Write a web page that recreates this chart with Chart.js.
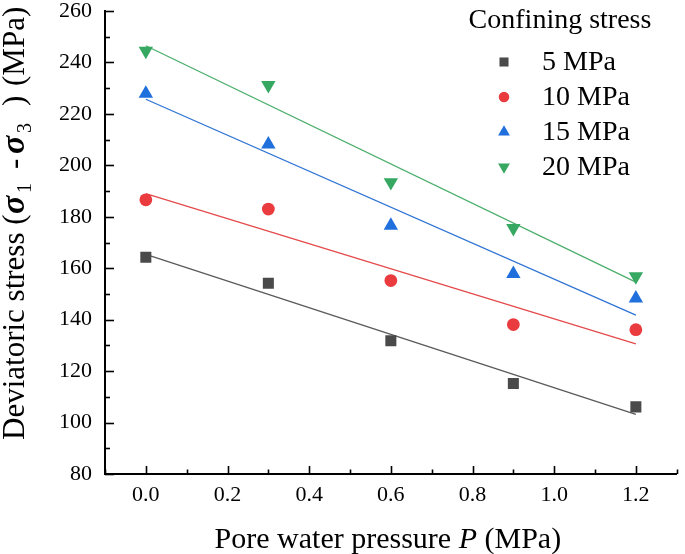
<!DOCTYPE html>
<html>
<head>
<meta charset="utf-8">
<script src="https://cdn.jsdelivr.net/npm/chart.js@4/dist/chart.umd.min.js"></script>
<style>
  html, body { margin: 0; padding: 0; background: #fff; }
  #wrap { width: 685px; height: 554px; }
</style>
</head>
<body>
<div id="wrap"><canvas id="stressChart" width="685" height="554"></canvas></div>
<script>
// Dados
const pressures = [0, 0.3, 0.6, 0.9, 1.2];
const stress5 = [164.3, 154.2, 131.8, 115.2, 106.1];
const stress10 = [186.6, 183.0, 155.2, 138.1, 136.1];
const stress15 = [227.9, 208.2, 176.6, 157.8, 148.3];
const stress20 = [244.5, 231.2, 193.4, 175.6, 156.8];

// Retas de ajuste (valores nos extremos P = 0 e P = 1.2)
const fitX = [0, 1.2];
const fit5 = [165.4, 103.2];
const fit10 = [189.0, 130.6];
const fit15 = [225.7, 141.8];
const fit20 = [246.5, 154.6];

const seriesLabels = ['5 MPa', '10 MPa', '15 MPa', '20 MPa'];
const legendTitle = 'Confining stress';

const serif = '"Liberation Serif", "Times New Roman", serif';
Chart.defaults.font.family = serif;

function toPoints(xs, ys) {
    return xs.map((x, i) => ({ x: x, y: ys[i] }));
}

const markerColors = ['#4a4a4a', '#ea3b3f', '#1f6fdc', '#36a862'];
const lineColors = ['#5a5a5a', '#e44a4c', '#2f74d4', '#4caf6c'];
const markerStyles = [
    { pointStyle: 'rect', radius: 7.8, rotation: 0 },
    { pointStyle: 'circle', radius: 6.4, rotation: 0 },
    { pointStyle: 'triangle', radius: 8.3, rotation: 0 },
    { pointStyle: 'triangle', radius: 8.3, rotation: 180 }
];
const allStress = [stress5, stress10, stress15, stress20];
const allFits = [fit5, fit10, fit15, fit20];

const datasets = [];
allFits.forEach((f, i) => {
    datasets.push({
        type: 'line',
        label: 'fit ' + seriesLabels[i],
        data: toPoints(fitX, f),
        borderColor: lineColors[i],
        borderWidth: 1.3,
        pointRadius: 0,
        fill: false,
        order: 2
    });
});
allStress.forEach((s, i) => {
    datasets.push({
        type: 'scatter',
        label: seriesLabels[i],
        data: toPoints(pressures, s),
        backgroundColor: markerColors[i],
        borderColor: markerColors[i],
        pointBorderWidth: 0,
        pointStyle: markerStyles[i].pointStyle,
        pointRadius: markerStyles[i].radius,
        pointRotation: markerStyles[i].rotation,
        order: 1
    });
});

// Ticks para dentro, maiores nos valores rotulados
const innerTicks = {
    id: 'innerTicks',
    afterDraw(chart) {
        const ctx = chart.ctx;
        const xs = chart.scales.x, ys = chart.scales.y;
        ctx.save();
        ctx.strokeStyle = '#000';
        ctx.lineWidth = 1.6;
        xs.ticks.forEach(t => {
            const major = Math.round(t.value * 10) % 2 === 0;
            const px = Math.round(xs.getPixelForValue(t.value)) + 0.5;
            const len = major ? 8 : 4.5;
            ctx.beginPath();
            ctx.moveTo(px, xs.top);
            ctx.lineTo(px, xs.top - len);
            ctx.stroke();
        });
        ys.ticks.forEach(t => {
            const major = Math.round(t.value) % 20 === 0;
            const py = Math.round(ys.getPixelForValue(t.value)) + 0.5;
            const len = major ? 9 : 5;
            ctx.beginPath();
            ctx.moveTo(ys.right, py);
            ctx.lineTo(ys.right + len, py);
            ctx.stroke();
        });
        ctx.restore();
    }
};

// Títulos dos eixos com itálico e subscritos
const axisTitles = {
    id: 'axisTitles',
    afterDraw(chart) {
        const ctx = chart.ctx;
        const area = chart.chartArea;
        ctx.save();
        ctx.fillStyle = '#000';
        ctx.textBaseline = 'alphabetic';

        // eixo x
        const xParts = [
            { t: 'Pore water pressure ', f: '30px ' + serif },
            { t: 'P', f: 'italic 30px ' + serif },
            { t: ' (MPa)', f: '30px ' + serif }
        ];
        let w = 0;
        xParts.forEach(p => { ctx.font = p.f; w += ctx.measureText(p.t).width; });
        let cx = (area.left + area.right) / 2 - w / 2 - 3;
        xParts.forEach(p => {
            ctx.font = p.f;
            ctx.fillText(p.t, cx, 548);
            cx += ctx.measureText(p.t).width;
        });

        // eixo y (posições ao longo do texto, a partir da base)
        const yParts = [
            { t: 'Deviatoric stress (', f: '31px ' + serif, at: 0, dy: 0 },
            { t: 'σ', f: 'italic bold 34px ' + serif, at: 226, dy: 0 },
            { t: '1', f: '20px ' + serif, at: 247, dy: 7 },
            { t: '-', f: '31px ' + serif, at: 271, dy: 0 },
            { t: 'σ', f: 'italic bold 34px ' + serif, at: 286, dy: 0 },
            { t: '3', f: '20px ' + serif, at: 307, dy: 7 },
            { t: ')', f: '31px ' + serif, at: 334, dy: 0 },
            { t: '(MPa)', f: '31px ' + serif, at: 354, dy: 0 }
        ];
        ctx.translate(24, 440);
        ctx.rotate(-Math.PI / 2);
        yParts.forEach(p => {
            ctx.font = p.f;
            ctx.fillText(p.t, p.at, p.dy);
        });
        ctx.restore();
    }
};

// Legenda desenhada dentro da área do gráfico
const cornerLegend = {
    id: 'cornerLegend',
    afterDraw(chart) {
        const ctx = chart.ctx;
        ctx.save();
        ctx.fillStyle = '#000';
        ctx.font = '28px ' + serif;
        ctx.textBaseline = 'middle';
        ctx.textAlign = 'center';
        ctx.fillText(legendTitle, 560, 21);
        ctx.textAlign = 'left';
        const scatterSets = chart.data.datasets.filter(d => d.type === 'scatter');
        scatterSets.forEach((d, i) => {
            const y = 62 + i * 35;
            ctx.fillStyle = d.backgroundColor;
            if (Chart.helpers && Chart.helpers.drawPoint) {
                Chart.helpers.drawPoint(ctx, {
                    pointStyle: d.pointStyle,
                    radius: d.pointRadius * 0.82,
                    rotation: d.pointRotation,
                    borderWidth: 0
                }, 504, y);
            }
            ctx.fillStyle = '#000';
            ctx.fillText(d.label, 542, y + 1);
        });
        ctx.restore();
    }
};

new Chart(document.getElementById('stressChart'), {
    type: 'scatter',
    data: { datasets: datasets },
    options: {
        responsive: false,
        animation: false,
        events: [],
        layout: { padding: { top: 11, right: 3, left: 0, bottom: 0 } },
        plugins: {
            legend: { display: false },
            tooltip: { enabled: false }
        },
        scales: {
            x: {
                type: 'linear',
                min: -0.1,
                max: 1.3,
                afterFit(scale) {
                    scale.height = 80;
                    scale.paddingLeft = 0;
                    scale.paddingRight = 0;
                },
                border: { display: true, color: '#000', width: 2 },
                grid: { display: false, drawTicks: false },
                ticks: {
                    stepSize: 0.1,
                    autoSkip: false,
                    maxRotation: 0,
                    padding: 10,
                    color: '#000',
                    font: { family: serif, size: 22, lineHeight: 1 },
                    callback: function(v) {
                        const k = Math.round(v * 10);
                        return (k % 2 === 0 && k >= 0 && k <= 12) ? (k / 10).toFixed(1) : '';
                    }
                }
            },
            y: {
                type: 'linear',
                min: 80,
                max: 260,
                afterFit(scale) {
                    scale.width = 105;
                    scale.paddingTop = 0;
                    scale.paddingBottom = 0;
                },
                border: { display: true, color: '#000', width: 2 },
                grid: { display: false, drawTicks: false },
                ticks: {
                    stepSize: 10,
                    autoSkip: false,
                    padding: 13,
                    color: '#000',
                    font: { family: serif, size: 22, lineHeight: 1 },
                    callback: function(v) {
                        return Math.round(v) % 20 === 0 ? String(Math.round(v)) : '';
                    }
                }
            }
        }
    },
    plugins: [innerTicks, axisTitles, cornerLegend]
});
</script>
</body>
</html>
